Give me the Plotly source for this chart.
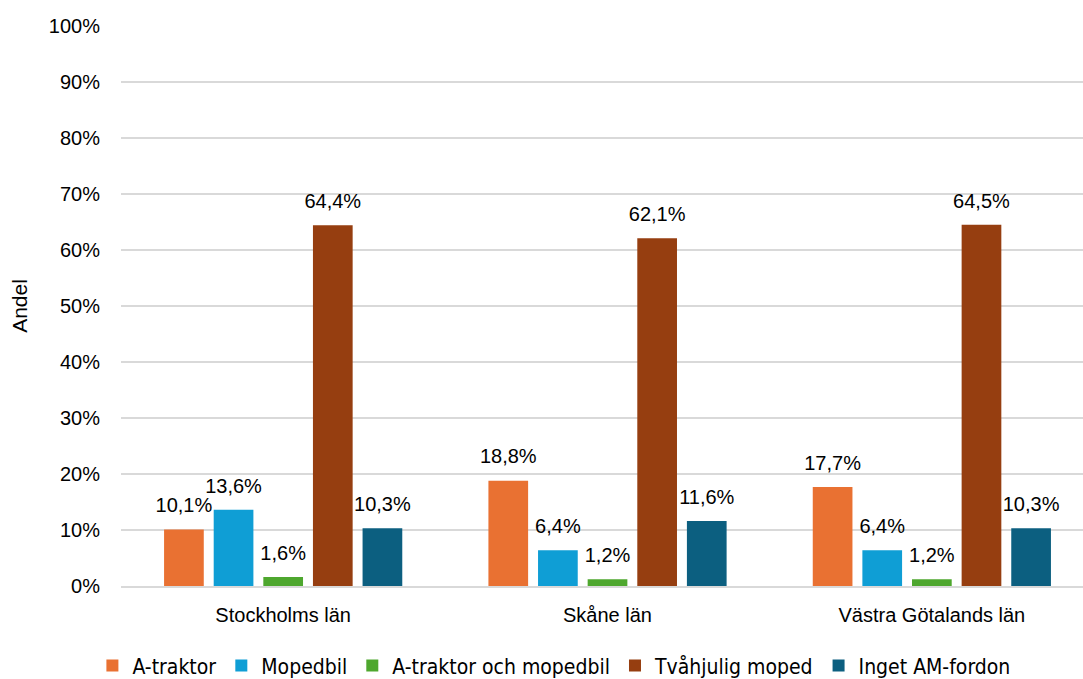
import plotly.graph_objects as go

regions = ["Stockholms län", "Skåne län", "Västra Götalands län"]
series_names = ["A-traktor", "Mopedbil", "A-traktor och mopedbil", "Tvåhjulig moped", "Inget AM-fordon"]
a_traktor = [10.1, 18.8, 17.7]
mopedbil = [13.6, 6.4, 6.4]
a_traktor_mopedbil = [1.6, 1.2, 1.2]
tvahjulig_moped = [64.4, 62.1, 64.5]
inget_am = [10.3, 11.6, 10.3]
colors = ["#E97132", "#0F9ED5", "#4EA72E", "#963E10", "#0C5F80"]

values = [a_traktor, mopedbil, a_traktor_mopedbil, tvahjulig_moped, inget_am]

fig = go.Figure()

for i, (name, vals) in enumerate(zip(series_names, values)):
    fig.add_trace(go.Bar(
        x=regions, y=vals, name=name,
        marker=dict(color=colors[i], line=dict(width=0)),
        offsetgroup=str(i),
    ))

# data labels, grouped like the bars
for i, vals in enumerate(values):
    fig.add_trace(go.Scatter(
        x=regions, y=vals, mode="markers+text",
        text=[f"{v:.1f}%".replace(".", ",") for v in vals],
        textposition="top center",
        textfont=dict(family="Liberation Sans, Arial, sans-serif", size=20, color="#000000"),
        marker=dict(size=18, opacity=0),
        offsetgroup=str(i), showlegend=False, hoverinfo="skip",
    ))

fig.update_layout(
    width=1083, height=679,
    margin=dict(l=121, r=0, t=26, b=93, autoexpand=False),
    plot_bgcolor="white", paper_bgcolor="white",
    barmode="group", scattermode="group",
    bargap=0.235, bargroupgap=0.2,
    font=dict(family="Liberation Sans, Arial, sans-serif", size=20, color="#000000"),
    legend=dict(
        orientation="h", x=0.45, xanchor="center", y=-0.106, yanchor="top",
        font=dict(family="Liberation Sans Narrow, DejaVu Sans Condensed, sans-serif", size=21),
        itemwidth=30, tracegroupgap=0,
    ),
)

fig.update_xaxes(
    range=[-0.5, 2.466], showgrid=False, showline=True,
    linecolor="#D9D9D9", linewidth=2, ticks="", tickfont=dict(size=20),
    ticklabelstandoff=10,
)
fig.update_yaxes(
    range=[0, 100], dtick=10, ticksuffix="%", showgrid=True,
    gridcolor="#D9D9D9", gridwidth=2, zeroline=False,
    title=dict(text="Andel", font=dict(size=21), standoff=15),
    tickfont=dict(size=20), ticklabelstandoff=20,
)

fig.write_html(
    "out.html",
    config={"displayModeBar": False},
    post_script="document.body.style.margin='0';document.body.style.overflow='hidden';",
)
